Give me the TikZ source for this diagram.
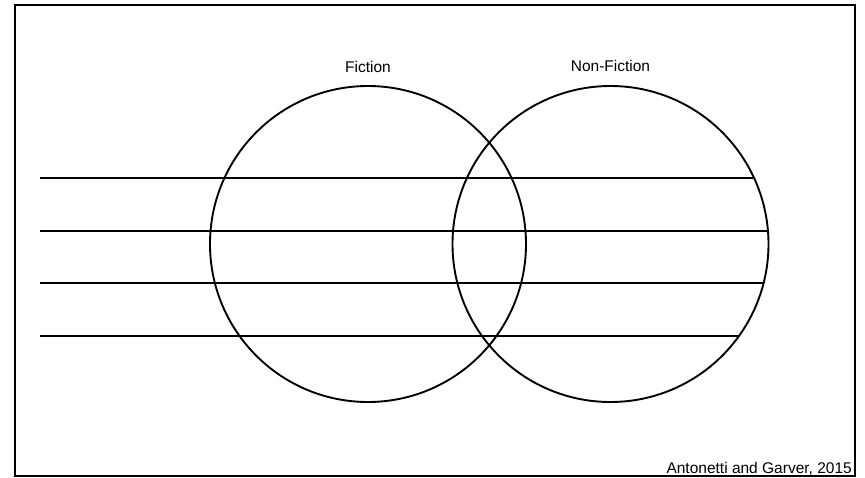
\documentclass[tikz,border=0pt]{standalone}
\usepackage{fontspec}
\setmainfont{Liberation Sans}
\usepackage{tikz}
\usetikzlibrary{positioning}
\tikzset{
  frm/.style={draw=black,line width=2pt},
  circ/.style={circle,draw=black,line width=1.9pt,minimum size=316pt,inner sep=0pt},
  rule/.style={draw=black,line width=2pt},
  lbl/.style={font=\fontsize{15.5}{18}\selectfont,inner sep=0pt,anchor=base}
}
\begin{document}
\begin{tikzpicture}[x=1pt,y=-1pt]
\useasboundingbox (0,0) rectangle (865,477);
\draw[frm] (15,5) rectangle (855,476);
\node[circ] (fic) at (368,244) {};
\node[circ] (nonfic) at (610.5,244) {};
\node[lbl] (ficlbl) at (368,72.5) {Fiction};
\node[lbl] (nonficlbl) at (610.5,71.5) {Non-Fiction};
% lines run from the left up to the edge of the right circle
\foreach \y [count=\i] in {178,231,283,336}{
  \pgfmathsetmacro{\dy}{(\y-244)/158}
  \pgfmathsetmacro{\xe}{610.5+158*sqrt(1-\dy*\dy)}
  \coordinate (ls\i) at (40,\y);
  \coordinate (le\i) at (\xe,\y);
  \draw[rule] (ls\i) -- (le\i);}
\node[lbl,anchor=base east] (credit) at (852,473) {Antonetti and Garver, 2015};
\end{tikzpicture}
\end{document}
